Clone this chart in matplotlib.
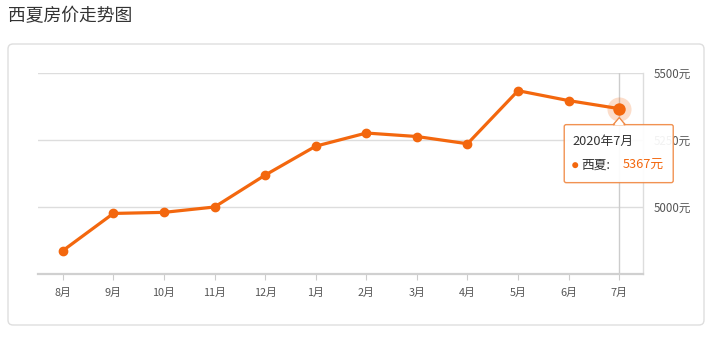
import matplotlib
matplotlib.use("Agg")
import matplotlib.pyplot as plt
from matplotlib.patches import FancyBboxPatch, Polygon, Circle
from matplotlib.transforms import IdentityTransform

plt.rcParams['font.family'] = ['Noto Sans CJK SC', 'DejaVu Sans']

# data
months = ['8月', '9月', '10月', '11月', '12月', '1月', '2月', '3月', '4月', '5月', '6月', '7月']
prices = [4837, 4976, 4980, 5000, 5119, 5227, 5276, 5263, 5236, 5434, 5397, 5367]
y_ticks = [5000, 5250, 5500]
tip_title = '2020年7月'
series_name = '西夏'

orange = '#f3670e'
W, H = 706, 341

fig = plt.figure(figsize=(W / 100, H / 100), dpi=100)
fig.patch.set_facecolor('white')

# outer rounded frame
frame = FancyBboxPatch((8, H - 325), 696, 281, boxstyle='round,pad=0,rounding_size=5',
                       transform=IdentityTransform(), facecolor='none',
                       edgecolor='#dedede', linewidth=1)
fig.patches.append(frame)

fig.text(8 / W, 1 - 16 / H, '西夏房价走势图', fontsize=12.8, color='#333333',
         ha='left', va='center')

ax = fig.add_axes([38 / W, 1 - 274 / H, 605 / W, 201 / H])
x = list(range(len(months)))

ax.set_xlim(-0.49, 11.47)
ax.set_ylim(4750, 5500)

for v in y_ticks:
    ax.axhline(v, color='#dddddd', lw=1, zorder=1)
ax.axvline(x[-1], color='#cccccc', lw=1, zorder=1)

ax.plot(x, prices, color=orange, lw=2.3, marker='o', markersize=6, zorder=3,
        solid_capstyle='round')
ax.scatter([x[-1]], [prices[-1]], s=300, color=orange, alpha=0.22, zorder=4, linewidths=0)
ax.scatter([x[-1]], [prices[-1]], s=80, color=orange, zorder=5, linewidths=0)

for s in ['top', 'left']:
    ax.spines[s].set_visible(False)
ax.spines['right'].set_color('#dddddd')
ax.spines['right'].set_linewidth(1)
ax.spines['bottom'].set_color('#d0d0d0')
ax.spines['bottom'].set_linewidth(1.6)

ax.set_xticks(x)
ax.set_xticklabels(months)
ax.tick_params(axis='x', length=4, color='#cccccc', labelsize=7.8, labelcolor='#555555', pad=6)
ax.yaxis.tick_right()
ax.set_yticks(y_ticks)
ax.set_yticklabels([f'{v}元' for v in y_ticks])
ax.tick_params(axis='y', length=0, labelsize=8.3, labelcolor='#555555', pad=8)

# tooltip anchored to the last point
fig.canvas.draw()
px, py = ax.transData.transform((x[-1], prices[-1]))
bx0, bx1 = px - 55, px + 54
by1 = py - 16
by0 = py - 74
box = FancyBboxPatch((bx0, by0), bx1 - bx0, by1 - by0, boxstyle='round,pad=0,rounding_size=2',
                     transform=IdentityTransform(), facecolor='white', alpha=0.93,
                     edgecolor='#f08a45', linewidth=1, zorder=10)
fig.patches.append(box)
arrow = Polygon([(px - 6, by1), (px, by1 + 7), (px + 6, by1)], closed=True,
                transform=IdentityTransform(), facecolor='white', edgecolor='#f08a45',
                linewidth=1, zorder=11)
fig.patches.append(arrow)
cover = Polygon([(px - 5, by1 - 0.8), (px, by1 + 5.5), (px + 5, by1 - 0.8)], closed=True,
                transform=IdentityTransform(), facecolor='white', edgecolor='none', zorder=12)
fig.patches.append(cover)

fig.text((bx0 + 8) / W, (by1 - 16.5) / H, tip_title, fontsize=9.2, color='#333333',
         ha='left', va='center', zorder=13)
dot = Circle((bx0 + 11, by1 - 40.5), 3, transform=IdentityTransform(),
             facecolor=orange, edgecolor='none', zorder=13)
fig.patches.append(dot)
fig.text((bx0 + 17) / W, (by1 - 40.5) / H, series_name + ':', fontsize=9.2, color='#333333',
         ha='left', va='center', zorder=13)
fig.text((bx0 + 58) / W, (by1 - 40.5) / H, f'{prices[-1]}元', fontsize=9.2, color=orange,
         ha='left', va='center', zorder=13)

fig.savefig('out.png', dpi=100, facecolor='white')
